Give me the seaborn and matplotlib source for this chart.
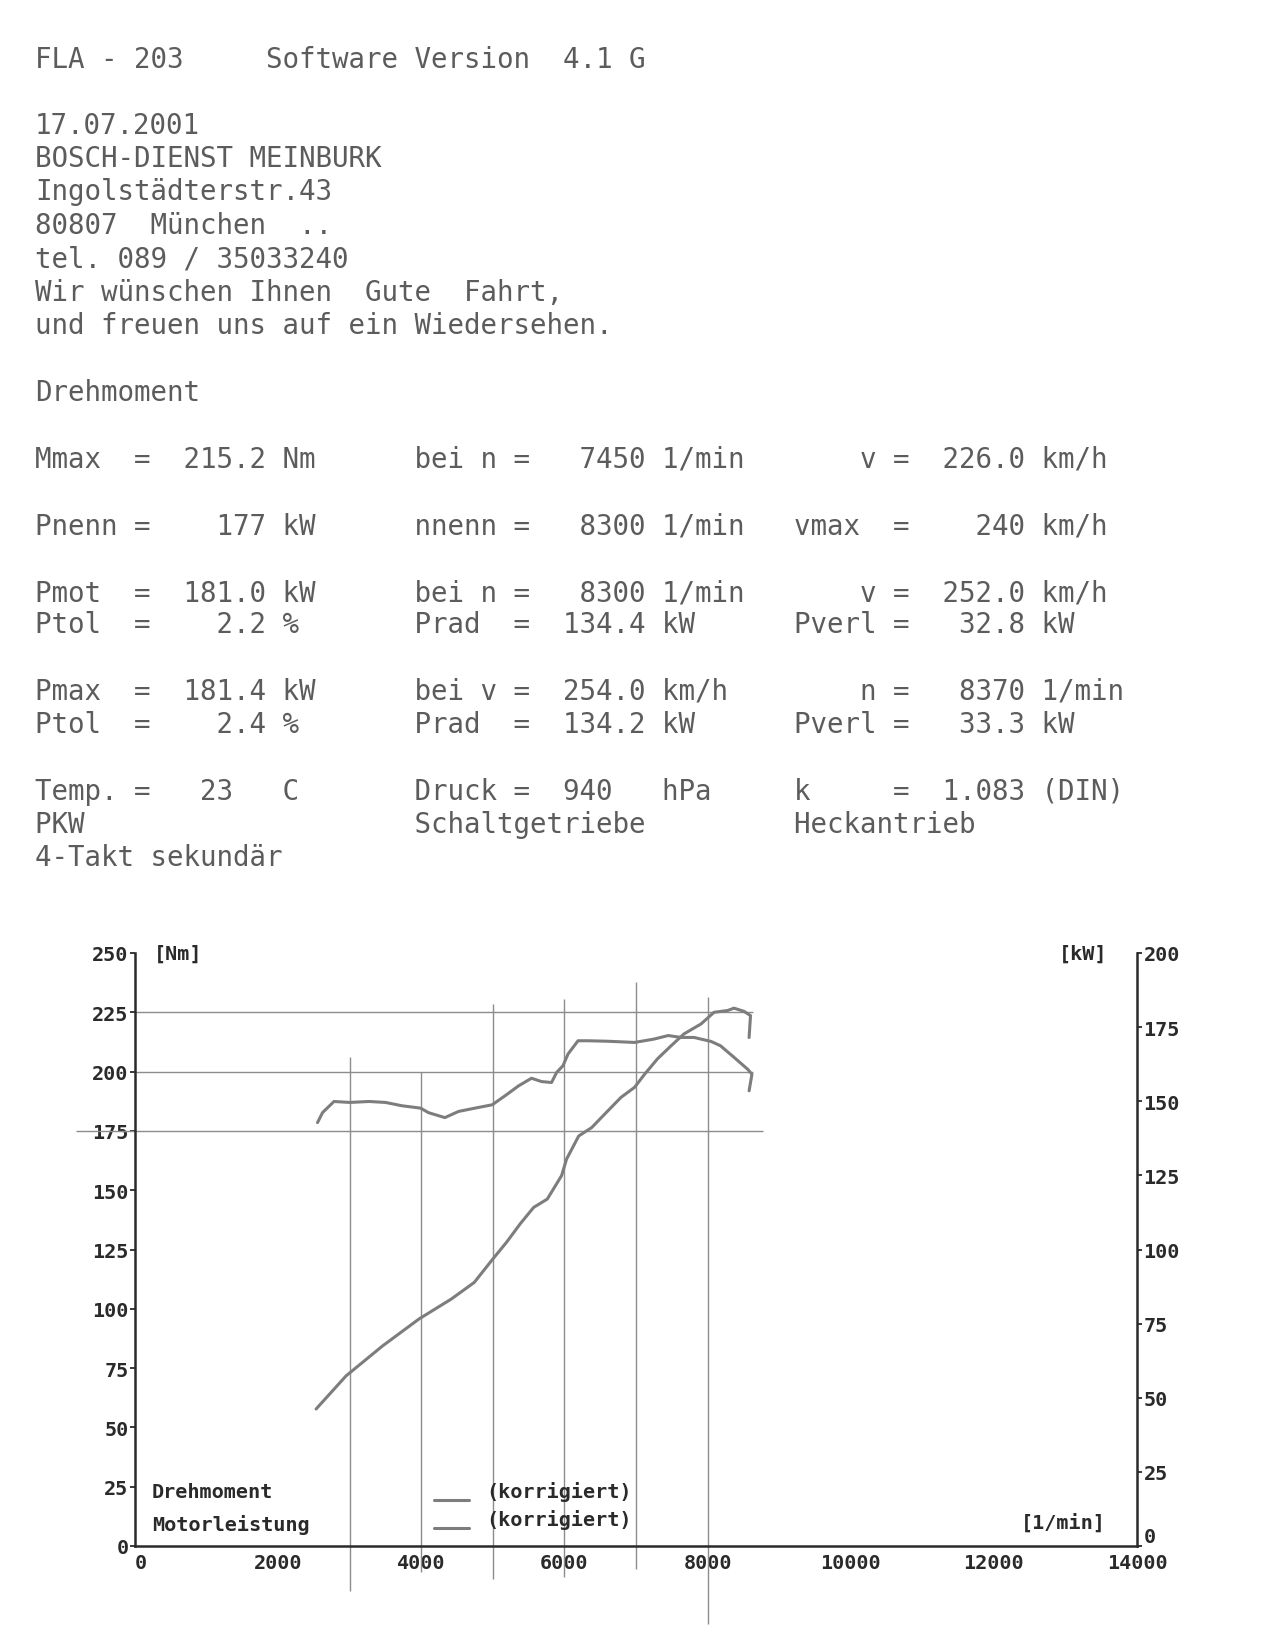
import matplotlib
matplotlib.use("Agg")
import matplotlib.pyplot as plt
import seaborn as sns
import pandas as pd
from matplotlib.legend_handler import HandlerLine2D

# ---------------- data ----------------
header_lines = [
    "FLA - 203     Software Version  4.1 G",
    "17.07.2001",
    "BOSCH-DIENST MEINBURK",
    "Ingolstädterstr.43",
    "80807  München  ..",
    "tel. 089 / 35033240",
    "Wir wünschen Ihnen  Gute  Fahrt,",
    "und freuen uns auf ein Wiedersehen.",
    "Drehmoment",
    "Mmax  =  215.2 Nm      bei n =   7450 1/min       v =  226.0 km/h",
    "Pnenn =    177 kW      nnenn =   8300 1/min   vmax  =    240 km/h",
    "Pmot  =  181.0 kW      bei n =   8300 1/min       v =  252.0 km/h",
    "Ptol  =    2.2 %       Prad  =  134.4 kW      Pverl =   32.8 kW",
    "Pmax  =  181.4 kW      bei v =  254.0 km/h        n =   8370 1/min",
    "Ptol  =    2.4 %       Prad  =  134.2 kW      Pverl =   33.3 kW",
    "Temp. =   23   C       Druck =  940   hPa     k     =  1.083 (DIN)",
    "PKW                    Schaltgetriebe         Heckantrieb",
    "4-Takt sekundär",
]
header_baselines = [68, 134, 167, 200, 234, 267, 301, 334, 401,
                    468, 535, 602, 633, 700, 733, 800, 833, 866]

rpm_torque = [2550, 2620, 2780, 3000, 3270, 3500, 3730, 3990, 4100, 4330,
              4520, 4750, 4990, 5170, 5360, 5540, 5680, 5820, 5890, 5980,
              6050, 6190, 6330, 6600, 6980, 7250, 7450, 7630, 7810, 8050,
              8180, 8370, 8560, 8620, 8580]
torque_nm = [178.5, 182.7, 187.4, 187.0, 187.4, 187.0, 185.6, 184.6, 182.7, 180.6,
             183.2, 184.6, 186.0, 189.8, 194.0, 197.2, 195.8, 195.4, 199.6, 202.5,
             207.4, 213.0, 213.0, 212.8, 212.3, 213.7, 215.2, 214.4, 214.4, 212.7,
             210.9, 206.0, 201.0, 198.9, 191.9]

rpm_power = [2530, 2950, 3460, 3970, 4420, 4740, 5000, 5190, 5380, 5570,
             5760, 5960, 6030, 6200, 6380, 6560, 6790, 6980, 7120, 7300,
             7490, 7670, 7910, 8090, 8280, 8370, 8510, 8600, 8580]
power_kw = [46.2, 57.4, 67.5, 76.6, 83.3, 88.9, 96.8, 102.4, 108.6, 114.2,
            117.0, 124.9, 130.5, 138.3, 141.1, 145.6, 151.3, 154.7, 159.1, 164.3,
            168.7, 172.7, 176.1, 180.0, 180.6, 181.4, 180.3, 178.9, 171.5]

x_ticks = [0, 2000, 4000, 6000, 8000, 10000, 12000, 14000]
nm_ticks = [0, 25, 50, 75, 100, 125, 150, 175, 200, 225, 250]
kw_ticks = [0, 25, 50, 75, 100, 125, 150, 175, 200]
ref_h_nm = [225, 200, 175]
ref_v_rpm = [3000, 4000, 5000, 6000, 7000, 8000]
legend_names = ["Drehmoment", "Motorleistung"]
legend_labels = ["(korrigiert)", "(korrigiert)"]

# ---------------- style ----------------
sns.set_style("white")
plt.rcParams["font.family"] = ["DejaVu Sans Mono", "DejaVu Sans"]

W, H = 1281, 1649
fig = plt.figure(figsize=(W / 100, H / 100), dpi=100)
fig.patch.set_facecolor("white")

TXT = "#5c5c5c"
INK = "#2a2a2a"
GRID = "#8c8c8c"
CURVE = "#7d7d7d"
chart_font = dict(family=["DejaVu Sans Mono"], weight="bold", size=14.5)

for s, yb in zip(header_lines, header_baselines):
    fig.text(35 / W, 1 - yb / H, s, fontsize=19.85, color=TXT,
             va="baseline", ha="left", family=["DejaVu Sans Mono", "DejaVu Sans"])

# ---------------- chart ----------------
left, right = 135, 1137
bottom, top = 1547, 954
ax = fig.add_axes([left / W, 1 - bottom / H, (right - left) / W, (bottom - top) / H])
ax.set_facecolor("none")
ax.set_xlim(0, 14000)
ax.set_ylim(0, 250)
ax2 = ax.twinx()
ax2.set_ylim(0, 200)

df_t = pd.DataFrame({"rpm": rpm_torque, "Nm": torque_nm})
df_p = pd.DataFrame({"rpm": rpm_power, "kW": power_kw})

# reference lines
h_ext = {225: (0, 8640), 200: (0, 8640), 175: (-830, 8780)}
for yv in ref_h_nm:
    x0, x1 = h_ext[yv]
    ax.hlines(yv, x0, x1, colors=GRID, linewidth=1.0, clip_on=False, zorder=1)
v_ext = {3000: (-18.8, 206), 4000: (-11, 200), 5000: (-13.9, 228.5),
         6000: (-13, 230.6), 7000: (-9.7, 237.8), 8000: (-32.9, 231.5)}
for xv in ref_v_rpm:
    y0, y1 = v_ext[xv]
    ax.vlines(xv, y0, y1, colors=GRID, linewidth=1.0, clip_on=False, zorder=1)

sns.lineplot(data=df_t, x="rpm", y="Nm", ax=ax, sort=False, estimator=None,
             color=CURVE, linewidth=2.2, zorder=3)
sns.lineplot(data=df_p, x="rpm", y="kW", ax=ax2, sort=False, estimator=None,
             color=CURVE, linewidth=2.2, zorder=3)
ax.set_xlim(0, 14000)
ax.set_ylim(0, 250)
ax2.set_ylim(0, 200)

# axes styling
for a in (ax, ax2):
    a.set_xlabel("")
    a.set_ylabel("")
    a.grid(False)
    for sp in a.spines.values():
        sp.set_visible(False)
ax.spines["left"].set_visible(True)
ax.spines["bottom"].set_visible(True)
ax2.spines["right"].set_visible(True)
for sp in (ax.spines["left"], ax.spines["bottom"], ax2.spines["right"]):
    sp.set_linewidth(1.8)
    sp.set_color(INK)

ax.set_yticks(nm_ticks)
ax.set_yticklabels([str(v) for v in nm_ticks])
ax2.set_yticks(kw_ticks)
ax2.set_yticklabels([str(v) for v in kw_ticks])
ax.set_xticks(x_ticks)
ax.set_xticklabels([str(v) for v in x_ticks])

ax.tick_params(axis="y", left=True, right=False, direction="out", length=3.6,
               width=1.3, color=INK, pad=1, labelcolor=INK)
ax2.tick_params(axis="y", right=True, left=False, direction="out", length=3.6,
                width=1.3, color=INK, pad=1, labelcolor=INK)
ax.tick_params(axis="x", bottom=True, length=0, pad=5, labelcolor=INK)
for lab in ax.get_yticklabels() + ax2.get_yticklabels() + ax.get_xticklabels():
    lab.set_fontfamily("DejaVu Sans Mono")
    lab.set_fontweight("bold")
    lab.set_fontsize(14.5)
ax.get_xticklabels()[0].set_horizontalalignment("left")
ax2.get_yticklabels()[0].set_verticalalignment("bottom")

# unit labels
ax.text(270, 250, "[Nm]", va="center", ha="left", color=INK, **chart_font)
ax.text(13590, 250, "[kW]", va="center", ha="right", color=INK, **chart_font)
ax.text(13566, 10.2, "[1/min]", va="center", ha="right", color=INK, **chart_font)

# legend
ax.text(234, 22.8, legend_names[0], va="center", ha="left", color=INK, **chart_font)
ax.text(234, 9.3, legend_names[1], va="center", ha="left", color=INK, **chart_font)


class LowLine(HandlerLine2D):
    def create_artists(self, legend, orig_handle, xdescent, ydescent,
                       width, height, fontsize, trans):
        arts = super().create_artists(legend, orig_handle, xdescent, ydescent,
                                      width, height, fontsize, trans)
        for a in arts:
            a.set_ydata([y - 0.5 * fontsize for y in a.get_ydata()])
        return arts


handles = [ax.get_lines()[0], ax2.get_lines()[0]]
leg = ax.legend(handles=handles, labels=legend_labels, loc="upper left",
                bbox_to_anchor=(4176, 27.4), bbox_transform=ax.transData,
                frameon=False, borderpad=0, borderaxespad=0,
                handlelength=1.74, handletextpad=0.88, labelspacing=0.4,
                handler_map={h: LowLine() for h in handles},
                prop=dict(family="DejaVu Sans Mono", weight="bold", size=14.5))
for t in leg.get_texts():
    t.set_color(INK)

fig.savefig("out.png", dpi=100, facecolor="white")
